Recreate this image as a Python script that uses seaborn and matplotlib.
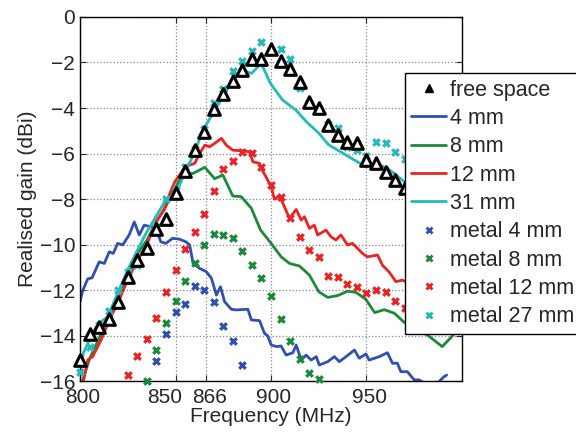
import numpy as np
import matplotlib
matplotlib.use('Agg')
import matplotlib.pyplot as plt
import matplotlib.transforms as mtransforms
from matplotlib.lines import Line2D
import seaborn as sns

# Free space measurement (triangles), 5 MHz steps
free_freq = [800, 805, 810, 815, 820, 825, 830, 835, 840, 845, 850, 855, 860, 865, 870,
             875, 880, 885, 890, 895, 900, 905, 910, 915, 920, 925, 930, 935, 940, 945,
             950, 955, 960, 965, 970]
free_gain = [-15.06, -13.9, -13.6, -13.27, -12.53, -11.4, -10.67, -10.16, -9.31, -8.87,
             -7.72, -6.78, -5.85, -5.06, -4.05, -3.39, -2.81, -2.34, -1.84, -1.84,
             -1.39, -1.93, -2.28, -2.85, -3.73, -4.02, -4.76, -5.19, -5.48, -5.55,
             -6.29, -6.43, -6.8, -7.16, -7.53]

# Simulated curves
f_4mm = [800, 801.4, 804, 806.3, 810, 812.7, 815.3, 817.4, 819.7, 822.3, 825.7, 828.4, 831,
         833.6, 837.1, 839.7, 842.3, 844.9, 848.4, 851.9, 855.4, 857.4, 859.2, 862.7, 866.1,
         868.8, 871.4, 873.5, 875.7, 879.2, 881.8, 887.9, 889.7, 894, 896.6, 898.3, 900.1,
         903, 905.3, 907.9, 911.4, 913.2, 915.8, 918.4, 921, 923.7, 925.3, 929.7, 933.2,
         935.8, 939.3, 943.7, 946.2, 949.7, 951.4, 956.7, 961, 963.6, 966.2, 968, 971.4,
         975, 977.5, 981.9, 987.1, 990.6, 992]
g_4mm = [-12.5, -12.0, -11.5, -11.45, -10.75, -10.82, -10.31, -10.38, -9.94, -10.01, -9.57,
         -9.0, -9.57, -9.14, -9.21, -9.28, -9.87, -9.94, -9.72, -9.75, -9.87, -10.01, -10.82,
         -11.04, -11.18, -11.47, -12.21, -11.84, -12.5, -12.83, -12.86, -12.83, -13.3, -13.33,
         -13.89, -14.0, -14.4, -14.47, -14.44, -14.84, -14.74, -14.4, -15.06, -14.84, -15.06,
         -14.91, -15.28, -15.13, -14.91, -15.13, -14.91, -14.62, -14.98, -14.79, -15.06,
         -14.91, -14.74, -15.2, -15.2, -15.57, -15.57, -15.93, -15.93, -16.15, -16.08,
         -15.79, -15.72]

f_8mm = [800, 805, 810, 815, 820, 825, 830, 835, 840, 845, 850, 853.9, 859.2, 865.3, 870.5,
         874.8, 880, 884.4, 889.7, 894.5, 899.7, 905.3, 909.7, 914.9, 920.1, 925, 929.7,
         934.9, 940.1, 944.5, 949.7, 954.3, 959.3, 964.5, 969.7, 975, 981.9, 989.7, 995, 1000]
g_8mm = [-16.3, -15.0, -14.1, -13.2, -12.4, -11.4, -10.4, -9.8, -9.0, -8.3, -7.5, -6.87,
         -6.87, -6.6, -7.1, -6.94, -7.86, -7.89, -8.4, -9.35, -9.9, -10.53, -10.82, -10.93,
         -11.33, -12.06, -12.31, -12.23, -12.04, -12.09, -12.4, -12.98, -12.85, -13.0,
         -13.4, -13.7, -13.96, -14.47, -14.0, -13.4]

f_12mm = [800, 802, 804, 806.6, 811, 815.3, 819.7, 824.9, 830.1, 834.5, 839.7, 844, 847,
          849.6, 853.9, 857.4, 860, 862.7, 865.3, 867.9, 870.5, 874, 876.6, 880, 885.3, 888.8,
          890.5, 894, 894.9, 898.3, 900.1, 901.8, 904.4, 907, 909.7, 913.2, 915.8, 917.5,
          920.1, 922.7, 924.4, 928.8, 931.4, 934, 936.6, 940.1, 942.7, 947.9, 950.5, 955.8,
          958.4, 961.9, 965.4, 968.8, 975]
g_12mm = [-16.3, -15.9, -15.06, -14.91, -14.18, -13.3, -12.57, -11.55, -10.67, -10.09, -8.99,
          -8.48, -7.75, -7.24, -6.72, -6.5, -6.43, -5.99, -5.63, -5.7, -5.55, -5.33, -5.63,
          -5.85, -5.88, -5.92, -6.36, -6.43, -6.65, -7.16, -7.46, -8.0, -7.85, -8.33, -8.84,
          -8.45, -8.92, -8.77, -9.28, -9.14, -9.57, -9.36, -9.65, -9.79, -9.57, -10.01, -9.94,
          -10.38, -10.53, -10.45, -10.9, -11.2, -11.62, -11.55, -11.8]

f_31mm = [800, 801.7, 804.9, 808.4, 811, 814.5, 819.7, 824.9, 830.1, 834.5, 839.7, 844.9,
          850.1, 854.8, 859.7, 864.4, 870, 874.8, 879.9, 884.8, 889.8, 894.9, 899.7, 906.1,
          913.2, 918.5, 925, 930, 935, 940, 949.7, 955, 960, 965, 970, 975]
g_31mm = [-15.6, -14.76, -14.18, -13.6, -13.38, -13.16, -12.13, -11.11, -10.23, -9.5, -8.77,
          -8.04, -7.75, -6.87, -5.99, -4.97, -4.17, -3.51, -2.78, -2.34, -2.48, -2.04, -2.92,
          -3.65, -4.1, -4.6, -5.1, -5.6, -5.85, -6.1, -6.58, -6.45, -6.6, -6.9, -7.25, -7.5]

# Measurements on metal (crosses)
metal4_freq = [840, 845, 850, 855, 860, 865, 870, 875, 880, 885]
metal4_gain = [-15.09, -13.92, -12.95, -12.58, -11.8, -12.0, -12.5, -13.55, -14.21, -15.27]

metal8_freq = [835, 840, 845, 850, 855, 860, 865, 870, 875, 880, 885, 890, 895, 900, 905,
               910, 915, 920, 925]
metal8_gain = [-16.0, -14.62, -13.45, -12.46, -11.58, -10.82, -10.01, -9.53, -9.57, -9.72,
               -10.28, -10.88, -11.46, -12.23, -13.27, -14.22, -15.01, -15.61, -15.89]

metal12_freq = [825, 830, 835, 840, 845, 850, 855, 860, 865, 870, 875, 880, 885, 890, 895,
                900, 905, 910, 915, 920, 925, 930, 935, 940, 945, 950, 955, 960, 965, 970]
metal12_gain = [-15.7, -14.9, -14.15, -13.21, -12.06, -11.1, -10.2, -9.43, -8.65, -7.63,
                -6.69, -6.33, -5.92, -5.99, -6.58, -7.36, -7.89, -8.84, -9.65, -10.23,
                -10.55, -11.37, -11.42, -11.71, -11.87, -12.13, -12.0, -12.06, -12.47, -12.76]

metal27_freq = free_freq
metal27_gain = [-15.6, -14.5, -13.5, -12.9, -12.0, -11.2, -10.9, -10.2, -9.2, -8.0, -7.6,
                -6.6, -5.8, -4.9, -3.8, -3.18, -2.37, -1.93, -1.5, -1.1, -1.45, -1.39, -1.86,
                -3.14, -3.8, -4.1, -4.7, -4.87, -5.7, -5.83, -6.1, -5.48, -5.53, -5.92, -6.24]

x_ticks = [800, 850, 866, 900, 950]
y_ticks = [0, -2, -4, -6, -8, -10, -12, -14, -16]

blue, green, red, cyan = '#3050B0', '#1A8A3A', '#EE2222', '#22BBBB'
fs = 15

sns.set_style('ticks')
plt.rcParams['font.family'] = ['Liberation Sans', 'DejaVu Sans']

fig = plt.figure(figsize=(5.76, 4.33), dpi=100)
ax = fig.add_axes([0.139, 0.119, 0.802 - 0.139, 0.961 - 0.119])

# lines
line_sets = [(f_4mm, g_4mm, blue, '4 mm'), (f_8mm, g_8mm, green, '8 mm'),
             (f_12mm, g_12mm, red, '12 mm'), (f_31mm, g_31mm, cyan, '31 mm')]
for fr, gn, c, lab in line_sets:
    sns.lineplot(x=fr, y=gn, color=c, lw=2, ax=ax, sort=False, legend=False)

# crosses
cross_sets = [(metal4_freq, metal4_gain, blue, 'metal 4 mm'),
              (metal8_freq, metal8_gain, green, 'metal 8 mm'),
              (metal12_freq, metal12_gain, red, 'metal 12 mm'),
              (metal27_freq, metal27_gain, cyan, 'metal 27 mm')]
for fr, gn, c, lab in cross_sets:
    sns.scatterplot(x=fr, y=gn, marker='x', s=22, linewidth=2.3, color=c, ax=ax,
                    legend=False, clip_on=False, zorder=4)

# triangles on top
sns.scatterplot(x=free_freq, y=free_gain, marker='^', s=70, color='white',
                edgecolor='black', linewidth=2.2, ax=ax, legend=False, zorder=5,
                clip_on=False)

ax.set_xlim(800, 1000)
ax.set_ylim(-16, 0)
ax.set_xticks(x_ticks)
ax.set_yticks(y_ticks)
ax.tick_params(direction='in', length=4, labelsize=fs, top=True, right=True)
ax.tick_params(axis='x', pad=5)
ax.grid(True, linestyle=':', color='#888888', lw=0.9)
for sp in ax.spines.values():
    sp.set_visible(True)
    sp.set_color('black')
    sp.set_linewidth(1)
ax.set_xlabel('Frequency (MHz)', fontsize=fs, labelpad=0)
ax.set_ylabel('Realised gain (dBi)', fontsize=fs, labelpad=2)

# x labels sit a little right of their ticks; 850 is pushed left to clear 866
for i, lbl in enumerate(ax.get_xticklabels()):
    dx = -0.11 if i == 1 else 0.03
    lbl.set_transform(lbl.get_transform() + mtransforms.ScaledTranslation(dx, 0, fig.dpi_scale_trans))

# legend built by hand, in the reference order
handles = [Line2D([], [], ls='none', marker='^', color='black', mfc='black', ms=6)]
labels = ['free space']
for fr, gn, c, lab in line_sets:
    handles.append(Line2D([], [], color=c, lw=2))
    labels.append(lab)
for fr, gn, c, lab in cross_sets:
    handles.append(Line2D([], [], ls='none', marker='x', color=c, ms=4, mew=2))
    labels.append(lab)

leg = ax.legend(handles, labels, loc='upper left',
                bbox_to_anchor=(0.703, 0.831), bbox_transform=fig.transFigure,
                borderaxespad=0, fontsize=15.5, frameon=True, fancybox=False,
                edgecolor='black', framealpha=1, handlelength=1.6,
                handletextpad=0.2, labelspacing=0.34, borderpad=0.3)
leg.get_frame().set_linewidth(1)

fig.savefig('out.png', dpi=100)
